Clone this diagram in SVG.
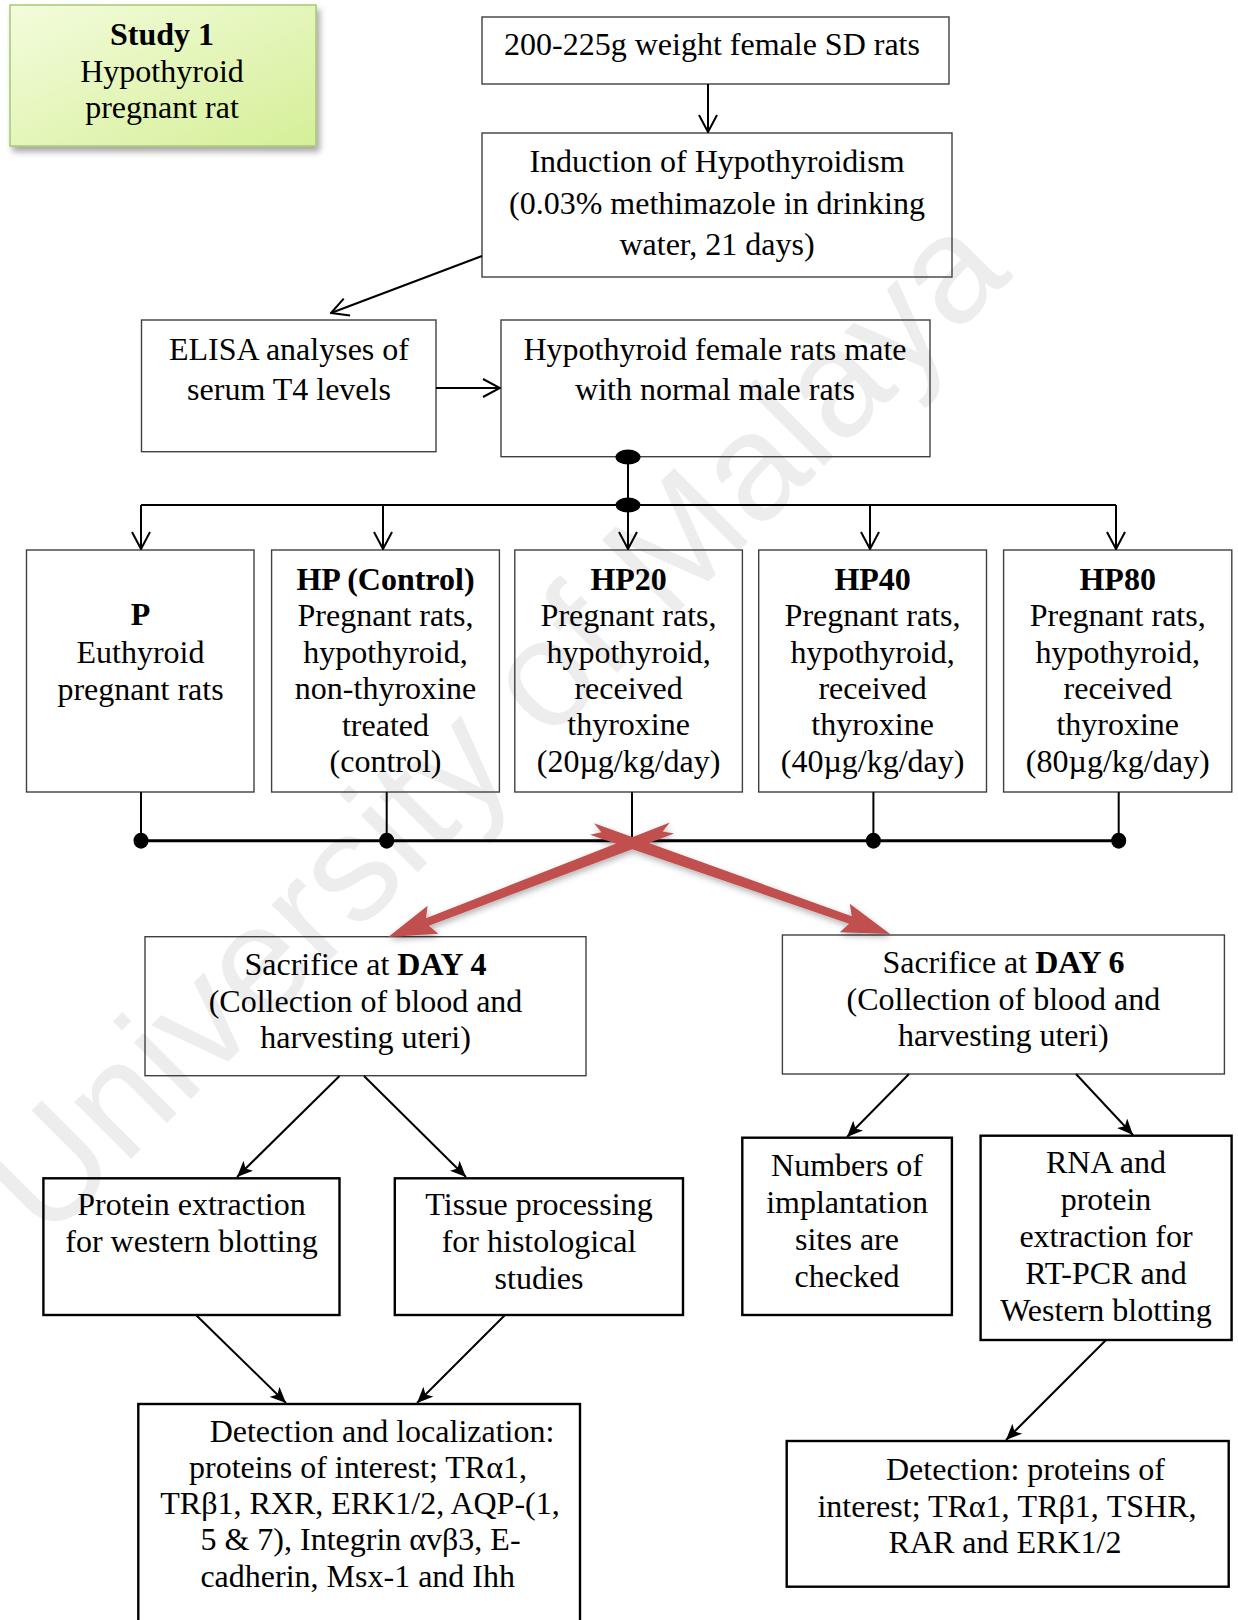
<svg xmlns="http://www.w3.org/2000/svg" width="1238" height="1620" viewBox="0 0 1238 1620">
<style>
text{font-family:"Liberation Serif","Times New Roman",serif;font-size:32px;fill:#000;text-anchor:middle}
.b{font-weight:bold}
.box{fill:none;stroke:#404040;stroke-width:1.4}
.hbox{fill:none;stroke:#000;stroke-width:2.4}
.ln{fill:none;stroke:#000;stroke-width:2}
.bus{fill:none;stroke:#000;stroke-width:3}
.wm{font-family:"Liberation Sans",Arial,sans-serif;font-size:152px;fill:#ededed;text-anchor:middle}
</style>
<defs>
<linearGradient id="g" x1="0" y1="0" x2="1" y2="1">
<stop offset="0" stop-color="#f3fcdc"/>
<stop offset="1" stop-color="#d5ef98"/>
</linearGradient>
<filter id="sh" x="-10%" y="-10%" width="130%" height="140%">
<feDropShadow dx="3" dy="5" stdDeviation="3" flood-color="#000" flood-opacity="0.35"/>
</filter>
<filter id="rsh" x="-20%" y="-20%" width="140%" height="160%">
<feDropShadow dx="1" dy="3" stdDeviation="3" flood-color="#000" flood-opacity="0.3"/>
</filter>
<marker id="open" viewBox="0 0 20 20" refX="19" refY="10" markerWidth="20" markerHeight="20" markerUnits="userSpaceOnUse" orient="auto">
<path d="M2,1 L19,10 L2,19" fill="none" stroke="#000" stroke-width="2"/>
</marker>
<marker id="stealth" viewBox="0 0 16 14" refX="16" refY="7" markerWidth="16" markerHeight="14" markerUnits="userSpaceOnUse" orient="auto">
<path d="M0,0 L16,7 L0,14 L4,7 Z" fill="#000"/>
</marker>
</defs>

<text class="wm" transform="translate(530,760) rotate(-45)">University of Malaya</text>

<g id="study">
<rect x="10" y="5" width="306" height="141" fill="url(#g)" stroke="#a8c870" stroke-width="1.5" filter="url(#sh)"/>
<text x="162" y="45" class="b">Study 1</text>
<text x="162" y="81.5">Hypothyroid</text>
<text x="162" y="118">pregnant rat</text>
</g>

<g id="rats">
<rect class="box" x="482" y="17" width="467" height="67"/>
<text x="712" y="55">200-225g weight female SD rats</text>
</g>

<g id="induction">
<rect class="box" x="482" y="133" width="470" height="144"/>
<text x="717" y="172">Induction of Hypothyroidism</text>
<text x="717" y="213.5">(0.03% methimazole in drinking</text>
<text x="717" y="255">water, 21 days)</text>
</g>

<g id="elisa">
<rect class="box" x="141.5" y="320" width="294.5" height="131.7"/>
<text x="289" y="360">ELISA analyses of</text>
<text x="289" y="400">serum T4 levels</text>
</g>

<g id="mate">
<rect class="box" x="501" y="320" width="429" height="136.7"/>
<text x="715" y="360">Hypothyroid female rats mate</text>
<text x="715" y="400">with normal male rats</text>
</g>

<g id="p">
<rect class="box" x="26.5" y="550" width="227.5" height="242"/>
<text x="140.5" y="625" class="b">P</text>
<text x="140.5" y="662.7">Euthyroid</text>
<text x="140.5" y="700">pregnant rats</text>
</g>

<g id="hp">
<rect class="box" x="271.6" y="550" width="227.8" height="242"/>
<text x="385.5" y="590" class="b">HP (Control)</text>
<text x="385.5" y="626">Pregnant rats,</text>
<text x="385.5" y="662.7">hypothyroid,</text>
<text x="385.5" y="699">non-thyroxine</text>
<text x="385.5" y="735.5">treated</text>
<text x="385.5" y="772">(control)</text>
</g>

<g id="hp20">
<rect class="box" x="514.8" y="550" width="227.6" height="242"/>
<text x="628.6" y="590" class="b">HP20</text>
<text x="628.6" y="626">Pregnant rats,</text>
<text x="628.6" y="662.7">hypothyroid,</text>
<text x="628.6" y="698.5">received</text>
<text x="628.6" y="735">thyroxine</text>
<text x="628.6" y="772">(20µg/kg/day)</text>
</g>

<g id="hp40">
<rect class="box" x="758.7" y="550" width="227.8" height="242"/>
<text x="872.6" y="590" class="b">HP40</text>
<text x="872.6" y="626">Pregnant rats,</text>
<text x="872.6" y="662.7">hypothyroid,</text>
<text x="872.6" y="698.5">received</text>
<text x="872.6" y="735">thyroxine</text>
<text x="872.6" y="772">(40µg/kg/day)</text>
</g>

<g id="hp80">
<rect class="box" x="1003.6" y="550" width="228.2" height="242"/>
<text x="1117.7" y="590" class="b">HP80</text>
<text x="1117.7" y="626">Pregnant rats,</text>
<text x="1117.7" y="662.7">hypothyroid,</text>
<text x="1117.7" y="698.5">received</text>
<text x="1117.7" y="735">thyroxine</text>
<text x="1117.7" y="772">(80µg/kg/day)</text>
</g>

<g id="day4">
<rect class="box" x="145" y="936.7" width="441" height="139"/>
<text x="365.5" y="975">Sacrifice at <tspan class="b">DAY 4</tspan></text>
<text x="365.5" y="1011.7">(Collection of blood and</text>
<text x="365.5" y="1048.3">harvesting uteri)</text>
</g>

<g id="day6">
<rect class="box" x="782.4" y="935" width="442" height="139"/>
<text x="1003.4" y="973">Sacrifice at <tspan class="b">DAY 6</tspan></text>
<text x="1003.4" y="1009.7">(Collection of blood and</text>
<text x="1003.4" y="1046.3">harvesting uteri)</text>
</g>

<g id="protein">
<rect class="hbox" x="43.4" y="1178.3" width="296.1" height="136.7"/>
<text x="191.5" y="1215">Protein extraction</text>
<text x="191.5" y="1252">for western blotting</text>
</g>

<g id="tissue">
<rect class="hbox" x="394.8" y="1178.3" width="288.2" height="136.7"/>
<text x="539" y="1215">Tissue processing</text>
<text x="539" y="1252">for histological</text>
<text x="539" y="1289">studies</text>
</g>

<g id="numbers">
<rect class="hbox" x="742.3" y="1137.7" width="209.6" height="177.3"/>
<text x="847" y="1176">Numbers of</text>
<text x="847" y="1213">implantation</text>
<text x="847" y="1249.5">sites are</text>
<text x="847" y="1286.5">checked</text>
</g>

<g id="rna">
<rect class="hbox" x="980.6" y="1135.7" width="251" height="204.3"/>
<text x="1106" y="1173.3">RNA and</text>
<text x="1106" y="1210">protein</text>
<text x="1106" y="1246.7">extraction for</text>
<text x="1106" y="1284">RT-PCR and</text>
<text x="1106" y="1321">Western blotting</text>
</g>

<g id="detect4">
<rect class="hbox" x="138.3" y="1404" width="441.7" height="240"/>
<text x="382" y="1441.7">Detection and localization:</text>
<text x="358" y="1478.3">proteins of interest; TRα1,</text>
<text x="360" y="1514">TRβ1, RXR, ERK1/2, AQP-(1,</text>
<text x="360.5" y="1550">5 &amp; 7), Integrin αvβ3, E-</text>
<text x="357.7" y="1586.7">cadherin, Msx-1 and Ihh</text>
</g>

<g id="detect6">
<rect class="hbox" x="786.7" y="1441" width="442" height="145.7"/>
<text x="1025.5" y="1480">Detection: proteins of</text>
<text x="1007" y="1516.7">interest; TRα1, TRβ1, TSHR,</text>
<text x="1005" y="1553.3">RAR and ERK1/2</text>
</g>

<g id="connectors">
<line class="ln" x1="708" y1="84" x2="708" y2="132" marker-end="url(#open)"/>
<line class="ln" x1="482" y1="256" x2="331" y2="313" marker-end="url(#open)"/>
<line class="ln" x1="436" y1="388" x2="500" y2="388" marker-end="url(#open)"/>
<line class="ln" x1="628" y1="457" x2="628" y2="505"/>
<line class="ln" x1="141" y1="505" x2="1116" y2="505" stroke="#333"/>
<ellipse cx="628" cy="457" rx="12.5" ry="7.5" fill="#000"/>
<ellipse cx="628" cy="505" rx="12.5" ry="7.5" fill="#000"/>
<line class="ln" x1="141" y1="505" x2="141" y2="549" marker-end="url(#open)"/>
<line class="ln" x1="383" y1="505" x2="383" y2="549" marker-end="url(#open)"/>
<line class="ln" x1="628" y1="505" x2="628" y2="549" marker-end="url(#open)"/>
<line class="ln" x1="870" y1="505" x2="870" y2="549" marker-end="url(#open)"/>
<line class="ln" x1="1116" y1="505" x2="1116" y2="549" marker-end="url(#open)"/>

<line class="ln" x1="141" y1="792" x2="141" y2="841"/>
<line class="ln" x1="386.7" y1="792" x2="386.7" y2="841"/>
<line class="ln" x1="632" y1="792" x2="632" y2="841"/>
<line class="ln" x1="873.4" y1="792" x2="873.4" y2="841"/>
<line class="ln" x1="1118.7" y1="792" x2="1118.7" y2="841"/>
<line class="bus" x1="141" y1="840.7" x2="1118.7" y2="840.7"/>
<ellipse cx="141" cy="840.7" rx="7.5" ry="8" fill="#000"/>
<ellipse cx="386.7" cy="840.7" rx="7.5" ry="8" fill="#000"/>
<ellipse cx="873.4" cy="840.7" rx="7.5" ry="8" fill="#000"/>
<ellipse cx="1118.7" cy="840.7" rx="7.5" ry="8" fill="#000"/>

<g fill="#c0504d" filter="url(#rsh)">
<polygon transform="translate(672,828) rotate(159)" points="0,-6 262,-4 256,-15 304,0 256,15 262,4 0,6 10,0"/>
<polygon transform="translate(592,829) rotate(19.4)" points="0,-6 274,-4 268,-15 316,0 268,15 274,4 0,6 10,0"/>
</g>

<line class="ln" x1="339.5" y1="1076" x2="237" y2="1177" marker-end="url(#stealth)"/>
<line class="ln" x1="364" y1="1076" x2="466" y2="1177" marker-end="url(#stealth)"/>
<line class="ln" x1="909" y1="1074" x2="847" y2="1137" marker-end="url(#stealth)"/>
<line class="ln" x1="1076" y1="1074" x2="1133" y2="1135" marker-end="url(#stealth)"/>
<line class="ln" x1="196" y1="1315" x2="286" y2="1403" marker-end="url(#stealth)"/>
<line class="ln" x1="505" y1="1315" x2="417" y2="1403" marker-end="url(#stealth)"/>
<line class="ln" x1="1106" y1="1340" x2="1006" y2="1440" marker-end="url(#stealth)"/>
</g>
</svg>
